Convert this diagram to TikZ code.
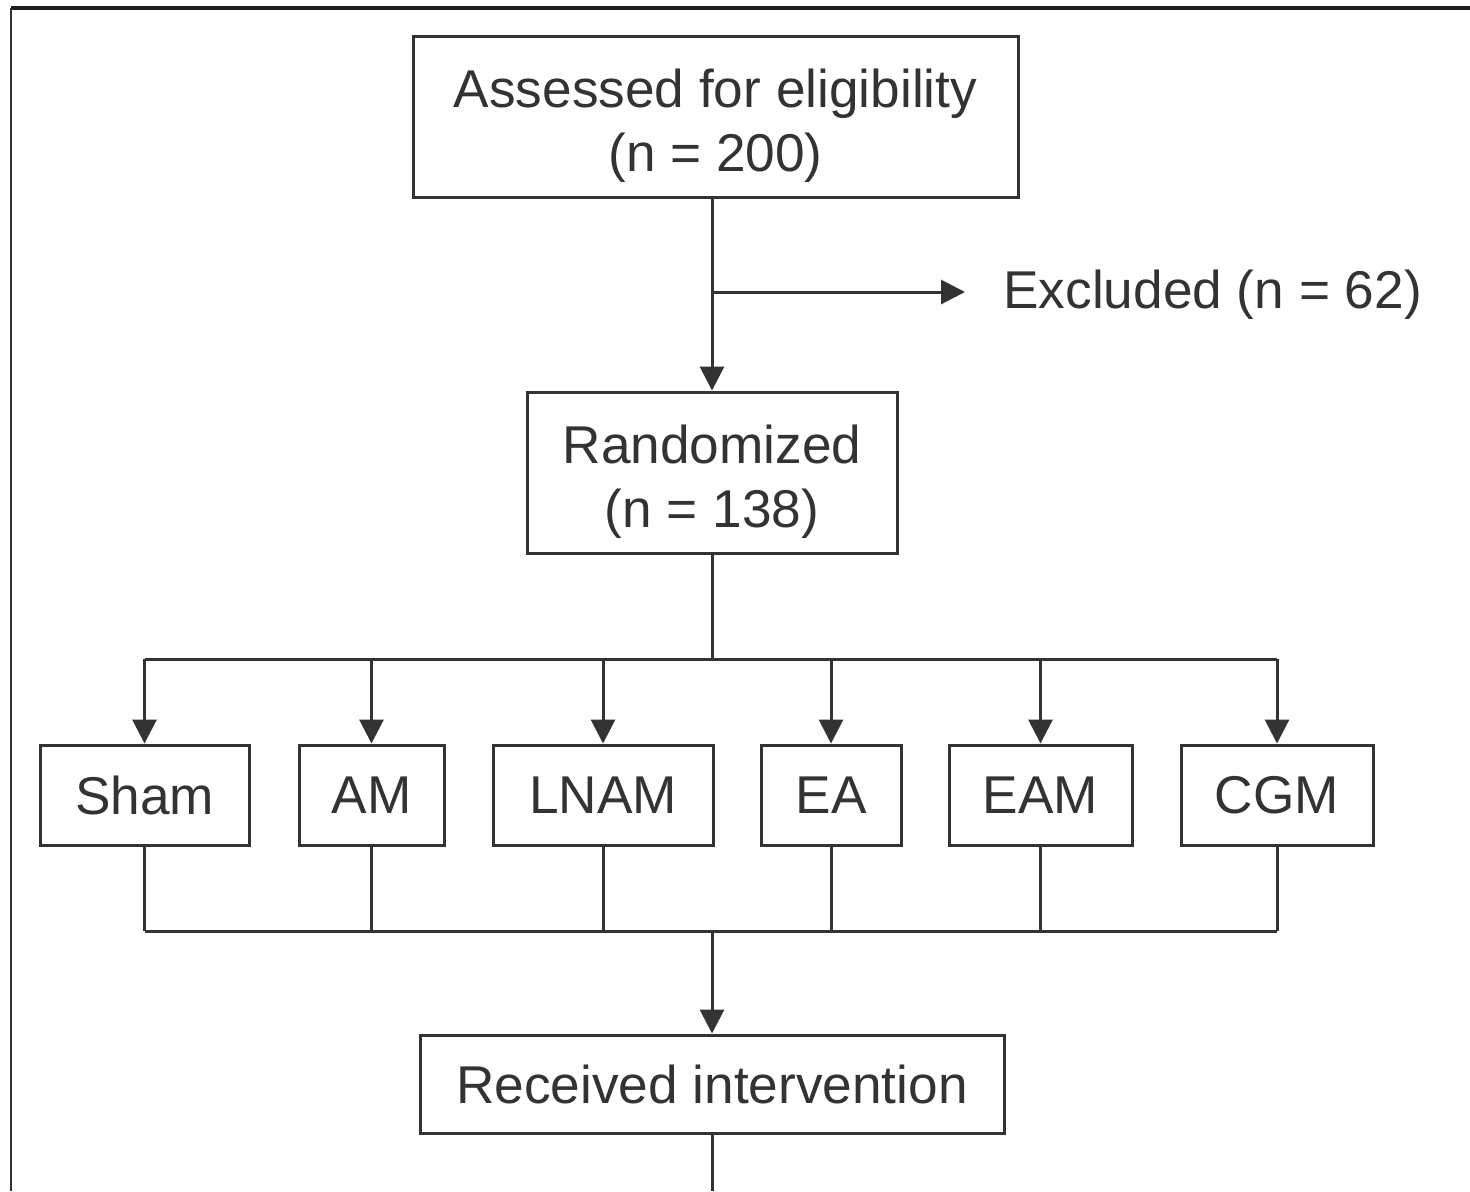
\documentclass[tikz,border=0pt]{standalone}
\usepackage{fontspec}
\setmainfont{Liberation Sans}
\usetikzlibrary{arrows.meta}
\definecolor{lc}{gray}{0.2}
\definecolor{tc}{gray}{0.2}
\begin{document}
\begin{tikzpicture}[x=0.5pt,y=-0.5pt,
  ln/.style={line width=1.5pt, draw=lc},
  box/.style={ln, rectangle, inner sep=0pt, align=center, text=tc, font=\fontsize{26.6}{32}\selectfont},
  arr/.style={ln, -{Triangle[length=12pt,width=12pt]}}]
\useasboundingbox (0,0) rectangle (1470,1191);
\fill[white] (0,0) rectangle (1470,1191);
% frame (top and left only)
\draw[line width=2pt, draw=black!88] (11,8) -- (1470,8);
\draw[line width=1.3pt, draw=black!80] (11,8) -- (11,1191);

% boxes
\node[box, minimum width=302.5pt, minimum height=80.5pt] (assess) at (715.5,116.5) {\rule{0pt}{4pt}\\[-8pt]Assessed for eligibility\\(n = 200)};
\node[box, minimum width=185pt, minimum height=80.5pt] (rand) at (712,472.5) {\rule{0pt}{4pt}\\[-8pt]Randomized\\(n = 138)};
\node[box, minimum width=104.5pt, minimum height=50pt] (sham) at (144.5,795) {Sham};
\node[box, minimum width=72.5pt, minimum height=50pt] (am) at (371.5,795) {AM};
\node[box, minimum width=110pt, minimum height=50pt] (lnam) at (603,795) {LNAM};
\node[box, minimum width=70pt, minimum height=50pt] (ea) at (831,795) {EA};
\node[box, minimum width=91.5pt, minimum height=50pt] (eam) at (1040.5,795) {EAM};
\node[box, minimum width=96pt, minimum height=50pt] (cgm) at (1277,795) {CGM};
\node[box, minimum width=292pt, minimum height=49pt] (recv) at (712,1084) {Received intervention};
\node[text=tc, font=\fontsize{26.6}{32}\selectfont, anchor=west, inner ysep=0pt, inner xsep=19pt] (excl) at (965,295) {Excluded (n = 62)};

% coordinates
\coordinate (top) at (712,197);
\coordinate (j1) at (712,292);
\coordinate (bus1) at (712,659);
\coordinate (bus2) at (712,931);
\coordinate (bottom) at (712,1191);

% connectors
\draw[arr] (top) -- (rand.north);
\draw[arr] (j1) -- (j1 -| excl.west);
\draw[ln] (rand.south) -- (bus1);
\draw[ln] (bus1 -| sham.north) -- (bus1 -| cgm.north);
\foreach \n in {sham,am,lnam,ea,eam,cgm}{
  \draw[arr] (bus1 -| \n.north) -- (\n.north);
  \draw[ln] (\n.south) -- (bus2 -| \n.south);
}
\draw[ln] (bus2 -| sham.south) -- (bus2 -| cgm.south);
\draw[arr] (bus2) -- (recv.north);
\draw[ln] (recv.south) -- (bottom);
\end{tikzpicture}
\end{document}
